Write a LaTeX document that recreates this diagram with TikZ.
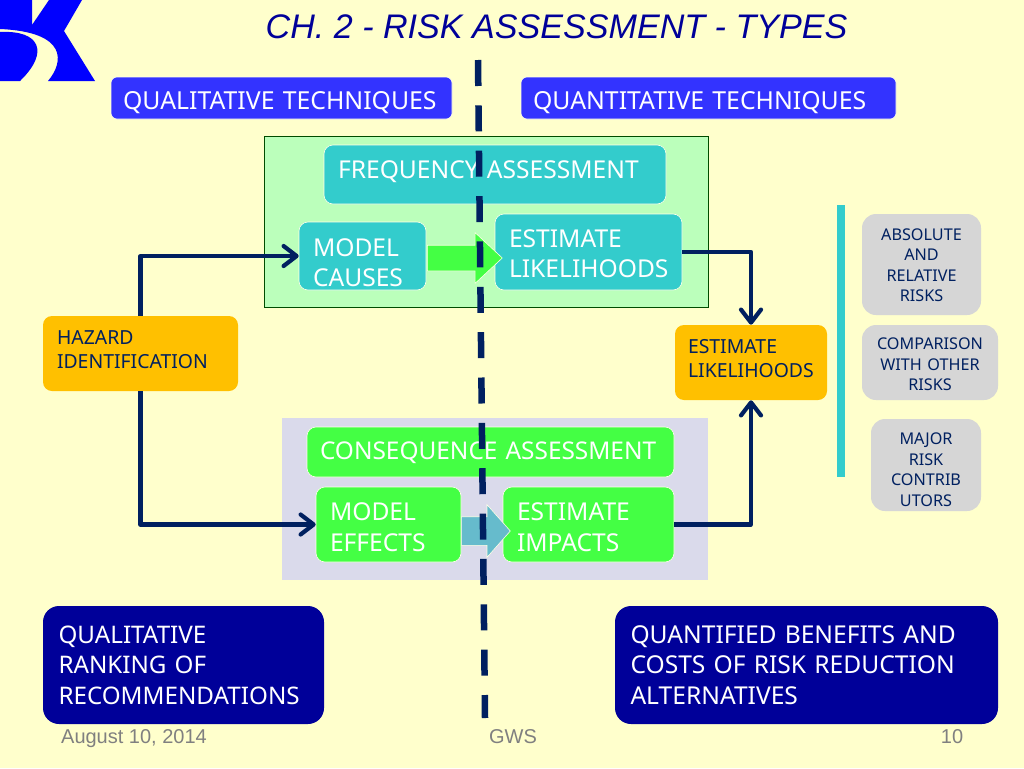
\documentclass[tikz,border=0pt]{standalone}
\usepackage{xcolor}
\usepackage{fontspec}
\setmainfont{Noto Sans}
\newfontfamily\titlefont{Liberation Sans}
\usetikzlibrary{shapes.arrows, arrows.meta}
\definecolor{paper}{HTML}{FFFFCC}
\definecolor{navyline}{HTML}{002060}
\definecolor{headblue}{HTML}{3333FF}
\definecolor{deepblue}{HTML}{000099}
\definecolor{teal}{HTML}{33CCCC}
\definecolor{lime}{HTML}{44FF44}
\definecolor{amber}{HTML}{FFC000}
\definecolor{mint}{HTML}{BBFFBB}
\definecolor{lilac}{HTML}{DADAEB}
\definecolor{silver}{HTML}{D6D6D6}
\definecolor{steel}{HTML}{66BBCC}
\tikzset{
  box/.style={
    rectangle, rounded corners=9pt, draw=white!60!paper, line width=0.6pt,
    text=white, align=left, inner sep=0pt, font=\fontsize{24.6}{30.5}\selectfont,
  },
  headbox/.style={box, fill=headblue, rounded corners=6pt, font=\fontsize{24.8}{30}\selectfont},
  tealbox/.style={box, fill=teal},
  limebox/.style={box, fill=lime},
  darkbox/.style={box, fill=deepblue, rounded corners=16pt, draw=none},
  amberbox/.style={box, fill=amber, draw=none, text=navyline,
    font=\fontsize{19.4}{24}\selectfont},
  sidebox/.style={box, fill=silver, draw=none, text=navyline, align=center,
    rounded corners=14pt, font=\fontsize{16.2}{20.5}\selectfont},
  panel/.style={rectangle, inner sep=0pt},
  flow/.style={-{Straight Barb[length=13pt,width=20pt,line width=4.2pt,round]}, line width=4.2pt, navyline, line join=round},
  bigarrow/.style={single arrow, anchor=tail, draw=white!50!paper, line width=0.6pt, inner xsep=0pt},
  foot/.style={font=\titlefont\fontsize{20}{24}\selectfont, text=black!50, anchor=base, inner sep=0pt},
  dropby/.style={execute at begin node={\rule{0pt}{#1}}},
  raiseby/.style={execute at end node={\rule[-#1]{0pt}{0pt}}},
}

\begin{document}
\begin{tikzpicture}[x=1pt, y=-1pt]
  \useasboundingbox[fill=paper] (0,0) rectangle (1024,768);

  % Logo
  \fill[blue] (0,0) -- (32,0) -- (32,25) -- (49,0) -- (82,0) -- (64,31) -- (95,81) -- (48,81)
    .. controls (64,62) and (68,32) .. (0,29) -- cycle;
  \fill[blue] (0,32) .. controls (40,30) and (50,52) .. (20,81) -- (0,81) -- cycle;

  % Title
  \node[font=\titlefont\itshape\fontsize{34.1}{38}\selectfont, text=deepblue] (title) at (556.5,27)
    {CH. 2 - RISK ASSESSMENT - TYPES};

  % Headers
  \node[headbox, minimum width=341pt, minimum height=42pt, text width=317pt, dropby=28pt] (qualhead) at (281.5,98) {\mbox{QUALITATIVE TECHNIQUES}};
  \node[headbox, minimum width=375pt, minimum height=42pt, text width=351pt, dropby=28pt] (quanthead) at (708.5,98) {\mbox{QUANTITATIVE TECHNIQUES}};

  % Panels
  \node[panel, draw=black!70!green, fill=mint, line width=0.6pt, minimum width=444pt, minimum height=171pt] (freqpanel) at (486,221.5) {};
  \node[panel, fill=lilac, minimum width=426pt, minimum height=162pt] (conspanel) at (495,499) {};

  % Frequency stages
  \node[tealbox, minimum width=342pt, minimum height=59pt, text width=314pt, raiseby=10pt] (freq) at (495,174.5) {FREQUENCY ASSESSMENT};
  \node[tealbox, minimum width=127pt, minimum height=68pt, text width=99pt, dropby=31.6pt] (causes) at (362.5,256) {MODEL\\CAUSES};
  \node[tealbox, minimum width=187pt, minimum height=76pt, text width=159pt, dropby=21.6pt] (estlike) at (588.5,252) {ESTIMATE\\LIKELIHOODS};
  \node[bigarrow, fill=lime, inner ysep=12.5pt, single arrow head extend=12.5pt, single arrow tip angle=86, minimum height=75pt] (freqarrow) at (427,258) {};

  % Consequence stages
  \node[limebox, minimum width=367pt, minimum height=50pt, text width=341pt, dropby=19.6pt, font=\fontsize{24.4}{30.5}\selectfont] (cons) at (490.5,452) {CONSEQUENCE ASSESSMENT};
  \node[limebox, minimum width=145pt, minimum height=75pt, text width=117pt, dropby=23.6pt] (effects) at (388.5,524.5) {MODEL\\EFFECTS};
  \node[limebox, minimum width=171pt, minimum height=75pt, text width=143pt, dropby=23.6pt] (impacts) at (588.5,524.5) {ESTIMATE\\IMPACTS};
  \node[bigarrow, fill=steel, inner ysep=14pt, single arrow head extend=12pt, single arrow tip angle=97, minimum height=49pt] (consarrow) at (461,531) {};

  % Hazard and result
  \node[amberbox, minimum width=195pt, minimum height=75pt, text width=167pt, raiseby=8pt] (hazard) at (140.5,353.5) {HAZARD\\IDENTIFICATION};
  \node[amberbox, minimum width=152pt, minimum height=75pt, text width=126pt, raiseby=8pt] (result) at (751,362.5) {ESTIMATE\\LIKELIHOODS};

  % Connectors
  \draw[flow] (hazard.north) |- (causes.west);
  \draw[flow] (hazard.south) |- (effects.west);
  \draw[flow] (estlike.east) -| (result.north);
  \draw[flow] (impacts.east) -| (result.south);

  % Side list
  \node[panel, fill=teal, minimum width=8pt, minimum height=272pt] (sidebar) at (841,341) {};
  \node[sidebox, minimum width=119pt, minimum height=101pt, text width=119pt, dropby=13.6pt] (absrisk) at (921.5,264.5) {ABSOLUTE\\AND\\RELATIVE\\RISKS};
  \node[sidebox, minimum width=136pt, minimum height=75pt, text width=136pt, dropby=15.6pt] (compare) at (930,362.5) {COMPARISON\\WITH OTHER\\RISKS};
  \node[sidebox, minimum width=110pt, minimum height=92pt, text width=110pt, dropby=21.6pt] (major) at (926,465) {MAJOR\\RISK\\CONTRIB\\UTORS};

  % Bottom boxes
  \node[darkbox, minimum width=281pt, minimum height=118pt, text width=250pt, font=\fontsize{24.2}{30.5}\selectfont] (ranking) at (183.5,665) {QUALITATIVE\\RANKING OF\\RECOMMENDATIONS};
  \node[darkbox, minimum width=383pt, minimum height=118pt, text width=352pt] (benefits) at (806.5,665) {QUANTIFIED BENEFITS AND\\COSTS OF RISK REDUCTION\\ALTERNATIVES};

  % Dividing line
  \coordinate (divtop) at (478,60);
  \coordinate (divbot) at (485,718);
  \draw[navyline, line width=6.5pt, dash pattern=on 26pt off 19.36pt] (divtop) -- (divbot);

  % Footer
  \node[foot] (date) at (134,743) {August 10, 2014};
  \node[foot] (gws) at (513,743) {GWS};
  \node[foot] (page) at (952,743) {10};
\end{tikzpicture}
\end{document}
